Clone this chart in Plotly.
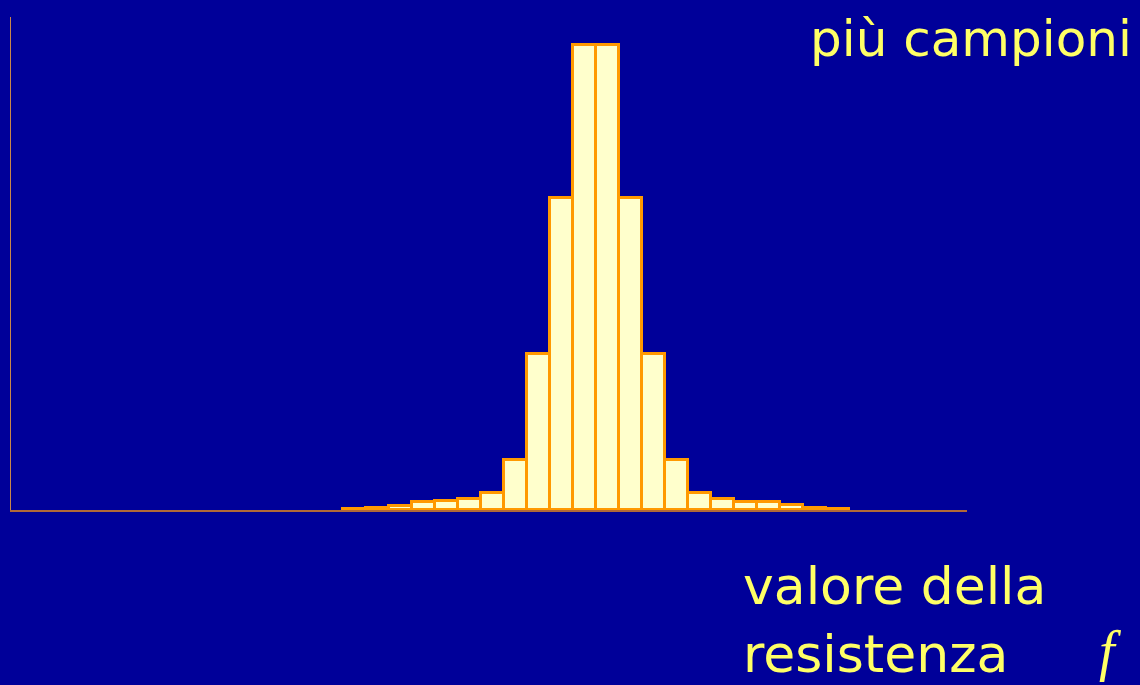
import plotly.graph_objects as go

# bin index (position along the resistance axis) and counts
bins = list(range(22))
counts = [0.8, 1.0, 2.8, 4.9, 5.6, 7.0, 10.7, 32, 100, 200, 298, 298,
          200, 100, 32, 10.7, 7.0, 5.3, 4.9, 3.0, 1.0, 0.8]

title_text = "più campioni"
xlabel_line1 = "valore della"
xlabel_line2 = "resistenza"
f_symbol = "f"

BG = "#000099"
YELLOW = "#FFFF66"

fig = go.Figure()
fig.add_trace(go.Bar(
    x=bins, y=counts, width=1.0,
    marker=dict(color="#FFFFCC", line=dict(color="#FF9900", width=3)),
    hoverinfo="skip",
))

fig.update_layout(
    width=1140, height=685,
    paper_bgcolor=BG, plot_bgcolor=BG,
    margin=dict(l=11, r=173, t=17, b=175),
    showlegend=False,
    bargap=0,
    xaxis=dict(range=[-14.93, 26.63], showgrid=False, zeroline=False,
               showticklabels=False, ticks="", showline=True,
               linecolor="#B06838", linewidth=2, layer="below traces",
               fixedrange=True),
    yaxis=dict(range=[0, 316], showgrid=False, zeroline=False,
               showticklabels=False, ticks="", showline=True,
               linecolor="#C8864A", linewidth=1, layer="below traces",
               fixedrange=True),
    annotations=[
        dict(text=title_text, xref="paper", yref="paper",
             x=1.175, y=0.955, xanchor="right", yanchor="middle",
             showarrow=False,
             font=dict(family="DejaVu Sans", size=50, color=YELLOW)),
        dict(text=xlabel_line1, xref="paper", yref="paper",
             x=0.7637, y=-0.154, xanchor="left", yanchor="middle",
             showarrow=False,
             font=dict(family="DejaVu Sans", size=52, color=YELLOW)),
        dict(text=xlabel_line2, xref="paper", yref="paper",
             x=0.7637, y=-0.292, xanchor="left", yanchor="middle",
             showarrow=False,
             font=dict(family="DejaVu Sans", size=52, color=YELLOW)),
        dict(text="<i>" + f_symbol + "</i>", xref="paper", yref="paper",
             x=1.150, y=-0.285, xanchor="center", yanchor="middle",
             showarrow=False,
             font=dict(family="Liberation Serif", size=56, color=YELLOW)),
    ],
)

fig.write_html("out.html",
               config={"displayModeBar": False},
               post_script="document.body.style.margin='0';"
                           "document.body.style.background='#000099';")
